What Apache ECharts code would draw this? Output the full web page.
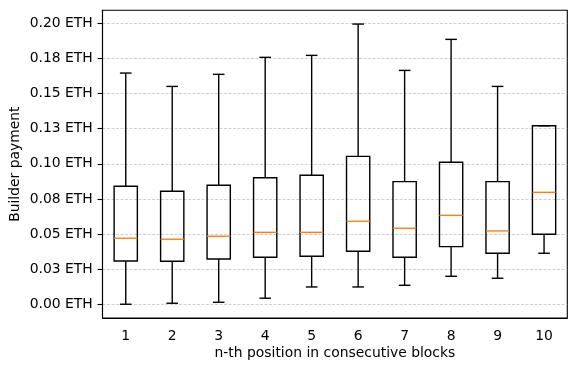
<!DOCTYPE html>
<html>
<head>
<meta charset="utf-8">
<script src="https://cdn.jsdelivr.net/npm/echarts@6/dist/echarts.min.js"></script>
<style>
  html, body { margin: 0; padding: 0; background: #fff; }
  #chart { width: 577px; height: 371px; }
</style>
</head>
<body>
<div id="chart"></div>
<script>
const positions = ['1', '2', '3', '4', '5', '6', '7', '8', '9', '10'];
// box stats per position: whisker low, Q1, median, Q3, whisker high
const whiskerLow = [0.0000, 0.0007, 0.0014, 0.0043, 0.0123, 0.0123, 0.0135, 0.0199, 0.0185, 0.0363];
const q1 = [0.0308, 0.0306, 0.0322, 0.0335, 0.0342, 0.0377, 0.0335, 0.0410, 0.0363, 0.0498];
const median = [0.0470, 0.0463, 0.0484, 0.0512, 0.0512, 0.0591, 0.0541, 0.0633, 0.0522, 0.0797];
const q3 = [0.0840, 0.0804, 0.0847, 0.0901, 0.0918, 0.1053, 0.0873, 0.1011, 0.0873, 0.1271];
const whiskerHigh = [0.1646, 0.1551, 0.1637, 0.1758, 0.1772, 0.1995, 0.1665, 0.1886, 0.1551, 0.1271];

const yTicks = [0, 0.025, 0.05, 0.075, 0.1, 0.125, 0.15, 0.175, 0.2];
const yTickLabels = ['0.00 ETH', '0.03 ETH', '0.05 ETH', '0.08 ETH', '0.10 ETH',
  '0.13 ETH', '0.15 ETH', '0.18 ETH', '0.20 ETH'];

const boxData = positions.map((p, i) =>
  [i, whiskerLow[i], q1[i], median[i], q3[i], whiskerHigh[i]]);

const chart = echarts.init(document.getElementById('chart'));

const font = 'DejaVu Sans';
const lw = 1.4;

const renderBox = (params, api) => {
  const i = api.value(0);
  const band = api.size([1, 0])[0];
  const half = band * 0.25;
  const cap = band * 0.125;
  const pLow = api.coord([i, api.value(1)]);
  const pQ1 = api.coord([i, api.value(2)]);
  const pMed = api.coord([i, api.value(3)]);
  const pQ3 = api.coord([i, api.value(4)]);
  const pHigh = api.coord([i, api.value(5)]);
  const cx = pQ1[0];
  const black = { stroke: '#000', lineWidth: lw, fill: null };
  return {
    type: 'group',
    children: [
      { type: 'line', shape: { x1: cx, y1: pLow[1], x2: cx, y2: pQ1[1] }, style: black },
      { type: 'line', shape: { x1: cx, y1: pQ3[1], x2: cx, y2: pHigh[1] }, style: black },
      { type: 'line', shape: { x1: cx - cap, y1: pLow[1], x2: cx + cap, y2: pLow[1] }, style: black },
      { type: 'line', shape: { x1: cx - cap, y1: pHigh[1], x2: cx + cap, y2: pHigh[1] }, style: black },
      { type: 'rect', shape: { x: cx - half, y: pQ3[1], width: half * 2, height: pQ1[1] - pQ3[1] },
        style: { stroke: '#000', lineWidth: lw, fill: 'none' } },
      { type: 'line', shape: { x1: cx - half, y1: pMed[1], x2: cx + half, y2: pMed[1] },
        style: { stroke: '#ff7f0e', lineWidth: lw } }
    ]
  };
};

const option = {
  animation: false,
  backgroundColor: '#fff',
  grid: {
    left: 102.5,
    right: 9.7,
    top: 10.3,
    bottom: 53,
    outerBoundsMode: 'none',
    containLabel: false,
    show: true,
    borderColor: '#000',
    borderWidth: 1.1,
    backgroundColor: 'transparent'
  },
  xAxis: {
    type: 'category',
    data: positions,
    name: 'n-th position in consecutive blocks',
    nameLocation: 'middle',
    nameGap: 28,
    nameMoveOverlap: false,
    nameTextStyle: { fontFamily: font, fontSize: 13.9, color: '#000' },
    axisLine: { onZero: false, lineStyle: { color: '#000', width: 1.1 } },
    axisTick: { alignWithLabel: true, length: 4.9, lineStyle: { color: '#000', width: 1.1 } },
    axisLabel: { fontFamily: font, fontSize: 13.9, color: '#000', margin: 11 },
    splitLine: { show: false }
  },
  yAxis: {
    type: 'value',
    min: -0.0098,
    max: 0.2093,
    name: 'Builder payment',
    nameLocation: 'middle',
    nameGap: 80,
    nameMoveOverlap: false,
    nameTextStyle: { fontFamily: font, fontSize: 13.9, color: '#000' },
    axisLine: { show: true, lineStyle: { color: '#000', width: 1.1 } },
    axisTick: { show: true, length: 4.9, customValues: yTicks, lineStyle: { color: '#000', width: 1.1 } },
    axisLabel: {
      fontFamily: font, fontSize: 13.9, color: '#000', margin: 9.7,
      customValues: yTicks,
      formatter: v => {
        const k = yTicks.findIndex(t => Math.abs(t - v) < 1e-9);
        return k >= 0 ? yTickLabels[k] : '';
      }
    },
    splitLine: { show: true, lineStyle: { color: '#bdbdbd', width: 0.7, type: [3, 1.5] } }
  },
  series: [{
    type: 'custom',
    renderItem: renderBox,
    encode: { x: 0, y: [1, 2, 3, 4, 5] },
    data: boxData,
    clip: false
  }]
};

chart.setOption(option);
</script>
</body>
</html>
